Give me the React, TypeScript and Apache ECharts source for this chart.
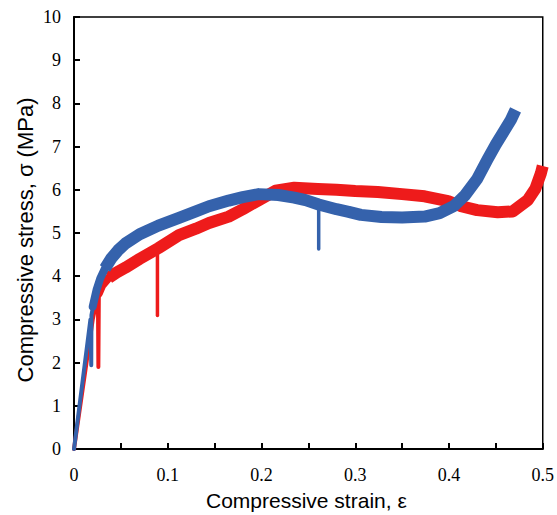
import React, { useEffect, useRef } from "react";
import * as echarts from "echarts";

// Blue specimen: elastic part, knee, plateau band, unloading spikes
const blueElastic: [number, number][] = [
  [0, 0], [0.0175, 3.0], [0.0184, 1.94], [0.0186, 3.1], [0.022, 3.5],
];
const blueKnee: [number, number][] = [
  [0.02, 3.3], [0.024, 3.68], [0.028, 3.95], [0.033, 4.18], [0.04, 4.42],
];
const blueBand: [number, number][] = [
  [0.033, 4.18], [0.04, 4.42], [0.047, 4.6],
  [0.055, 4.76], [0.07, 4.97], [0.09, 5.17], [0.112, 5.35], [0.13, 5.5],
  [0.144, 5.62], [0.165, 5.75], [0.18, 5.83], [0.197, 5.9], [0.218, 5.88],
  [0.235, 5.82], [0.247, 5.76], [0.261, 5.66], [0.28, 5.55], [0.293, 5.49],
  [0.306, 5.42], [0.328, 5.37], [0.35, 5.36], [0.374, 5.38], [0.39, 5.46],
  [0.405, 5.62], [0.417, 5.87], [0.43, 6.25], [0.441, 6.7], [0.45, 7.05],
  [0.459, 7.37], [0.466, 7.62], [0.471, 7.85],
];
const blueSpike: [number, number][] = [[0.261, 5.6], [0.261, 4.63]];

// Red specimen
const redElastic: [number, number][] = [
  [0, 0], [0.02, 3.0], [0.0255, 3.55], [0.026, 1.9], [0.0265, 3.6], [0.03, 3.78],
];
const redKnee: [number, number][] = [
  [0.0265, 3.6], [0.03, 3.78], [0.037, 3.96], [0.045, 4.08],
];
const redBand: [number, number][] = [
  [0.037, 3.96], [0.045, 4.08], [0.055, 4.2], [0.07, 4.4],
  [0.09, 4.65], [0.112, 4.95], [0.13, 5.1], [0.144, 5.23], [0.165, 5.38],
  [0.18, 5.55], [0.197, 5.76], [0.215, 5.98], [0.235, 6.05], [0.26, 6.02],
  [0.28, 6.0], [0.3, 5.97], [0.324, 5.95], [0.35, 5.9], [0.374, 5.85],
  [0.399, 5.74], [0.413, 5.62], [0.43, 5.53], [0.452, 5.48], [0.468, 5.5],
  [0.484, 5.76], [0.492, 6.02], [0.498, 6.38], [0.5, 6.55],
];
const redSpike: [number, number][] = [[0.089, 4.6], [0.089, 3.09]];

const xTitle = "Compressive strain, ε";
const yTitle = "Compressive stress, σ (MPa)";

const BLUE = "#3562AC";
const RED = "#EE1B1B";

export default function App() {
  const ref = useRef<HTMLDivElement>(null);
  useEffect(() => {
    if (!ref.current) return;
    const chart = echarts.init(ref.current, null, { renderer: "svg" });
    const line = (data: [number, number][], color: string, width: number, cap = "round") => ({
      type: "line",
      data,
      showSymbol: false,
      symbol: "none",
      clip: true,
      lineStyle: { color, width, cap, join: "round" },
      z: 2,
    });
    chart.setOption({
      animation: false,
      backgroundColor: "#ffffff",
      grid: {
        left: 74,
        right: 10.5,
        top: 17,
        bottom: 66,
        show: true,
        borderColor: "#000",
        borderWidth: 1.5,
        backgroundColor: "transparent",
      },
      graphic: [
        {
          type: "text",
          left: 206,
          top: 490,
          style: {
            text: xTitle,
            fontFamily: "Liberation Sans",
            fontSize: 21,
            fill: "#000",
          },
        },
        {
          type: "text",
          x: 14,
          y: 240,
          rotation: Math.PI / 2,
          style: {
            text: yTitle,
            fontFamily: "Liberation Sans",
            fontSize: 22,
            fill: "#000",
            align: "center",
            verticalAlign: "top",
          },
        },
      ],
      xAxis: {
        type: "value",
        min: 0,
        max: 0.5,
        interval: 0.05,
        axisLine: { show: true, lineStyle: { color: "#000", width: 2 } },
        axisTick: { show: true, inside: true, length: 6, lineStyle: { color: "#000", width: 2 } },
        splitLine: { show: false },
        axisLabel: {
          margin: 17,
          fontFamily: "Liberation Serif",
          fontSize: 18,
          color: "#000",
          showMaxLabel: true,
          formatter: (v: number) => {
            const k = Math.round(v * 100);
            return k % 10 === 0 ? String(k / 100) : "";
          },
        },
      },
      yAxis: {
        type: "value",
        min: 0,
        max: 10,
        interval: 1,
        axisLine: { show: true, lineStyle: { color: "#000", width: 2 } },
        axisTick: { show: true, inside: true, length: 6, lineStyle: { color: "#000", width: 2 } },
        splitLine: { show: false },
        axisLabel: {
          margin: 13,
          fontFamily: "Liberation Serif",
          fontSize: 18,
          color: "#000",
        },
      },
      series: [
        line(redElastic, RED, 4),
        line(redSpike, RED, 3.5),
        line(redKnee, RED, 8),
        line(redBand, RED, 12, "butt"),
        line(blueElastic, BLUE, 4),
        line(blueSpike, BLUE, 3.5),
        line(blueKnee, BLUE, 8),
        line(blueBand, BLUE, 12, "butt"),
      ],
    });
    return () => chart.dispose();
  }, []);
  return (
    <div
      ref={ref}
      style={{ position: "fixed", left: 0, top: 0, width: 557, height: 515 }}
    />
  );
}
